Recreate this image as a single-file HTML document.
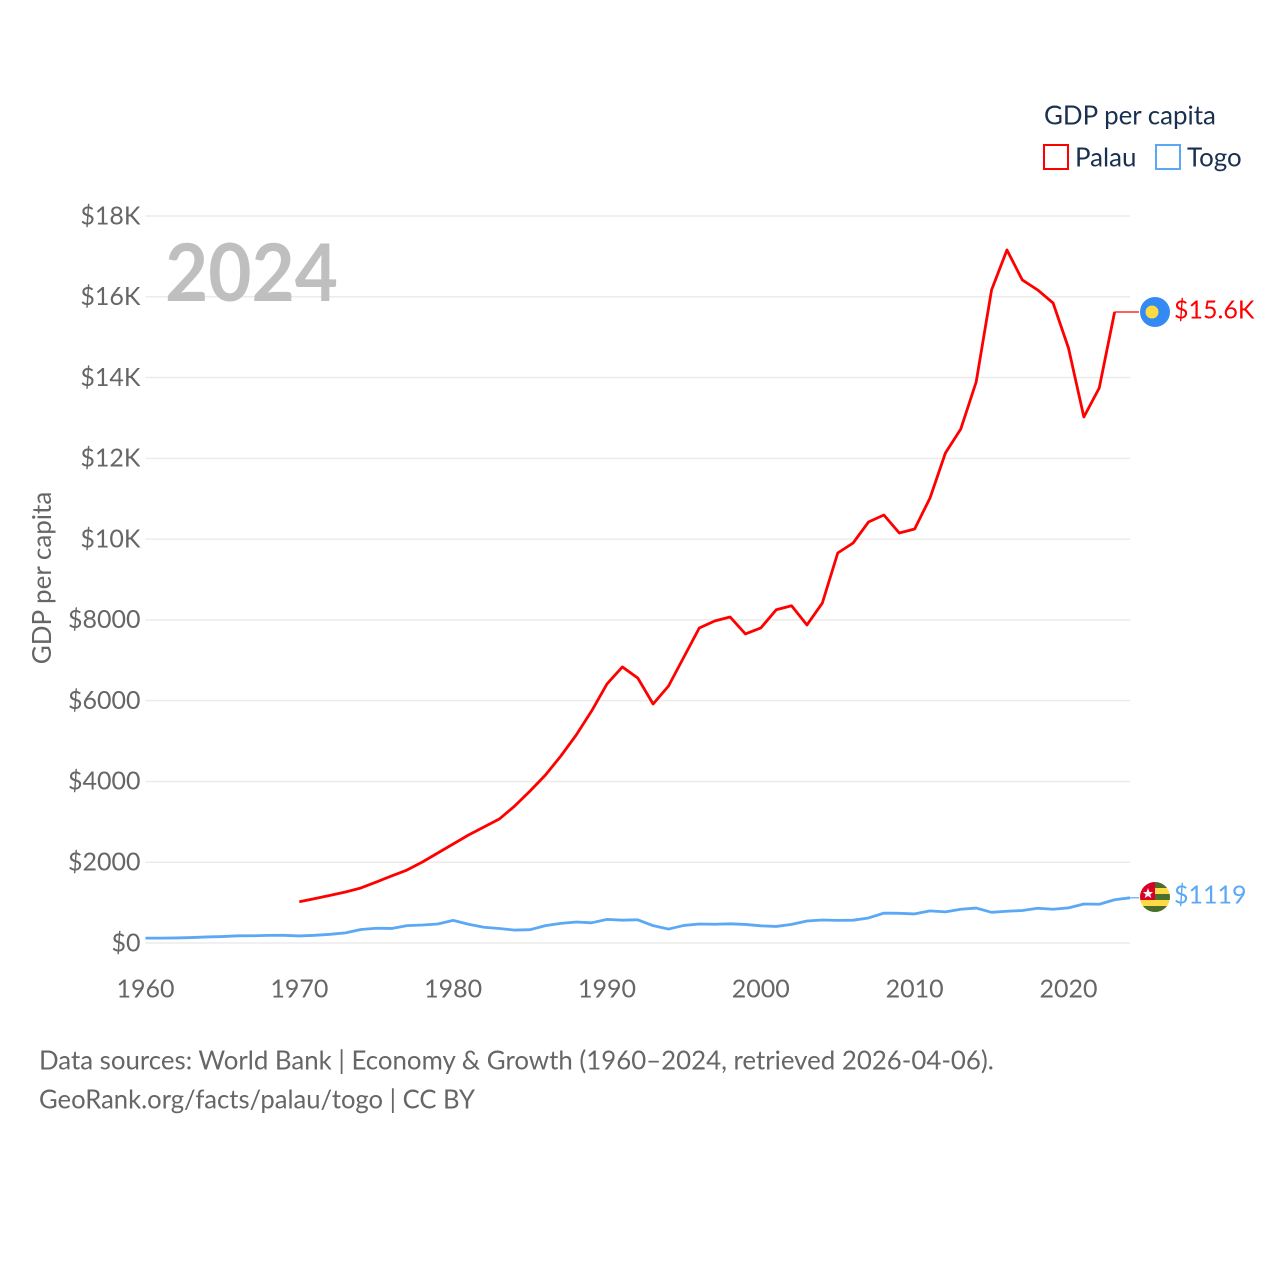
<!DOCTYPE html>
<html lang="en">
<head>
<meta charset="utf-8">
<title>GDP per capita: Palau and Togo</title>
<style>
html,body{margin:0;padding:0;background:#fff;width:1280px;height:1280px;overflow:hidden}
svg{display:block}
text{font-family:"Lato","Carlito","Liberation Sans",sans-serif}
</style>
</head>
<body>
<svg id="chart" width="1280" height="1280" viewBox="0 0 1280 1280" xmlns="http://www.w3.org/2000/svg">
  <g id="grid"></g>
  <text x="165" y="301" font-size="80" font-weight="700" fill="#bfbfbf" textLength="173" lengthAdjust="spacingAndGlyphs">2024</text>
  <g id="y-ticks"></g>
  <g id="x-ticks"></g>
  <text transform="translate(51,578) rotate(-90)" text-anchor="middle" font-size="26" fill="#666666">GDP per capita</text>
  <g id="series"></g>

  <g>
    <text x="1044" y="124.5" font-size="25.9" fill="#1a3050">GDP per capita</text>
    <rect x="1044" y="145" width="24" height="24" fill="none" stroke="#ff0000" stroke-width="2"/>
    <text x="1075" y="166.5" font-size="25.9" fill="#1a3050">Palau</text>
    <rect x="1156" y="145" width="24" height="24" fill="none" stroke="#5ba8f5" stroke-width="2"/>
    <text x="1187" y="166.5" font-size="25.9" fill="#1a3050">Togo</text>
  </g>

  <g>
    <circle cx="1155" cy="312" r="15" fill="#338af3"/>
    <circle cx="1152" cy="312" r="6.5" fill="#ffda44"/>
  </g>
  <text x="1174" y="318.5" font-size="25" fill="#ff0000">$15.6K</text>

  <g>
    <defs><clipPath id="togo-clip"><circle cx="1155" cy="897" r="15"/></clipPath></defs>
    <g clip-path="url(#togo-clip)">
      <rect x="1140" y="882" width="30" height="30" fill="#ffda44"/>
      <rect x="1155" y="882" width="15" height="6" fill="#496e2d"/>
      <rect x="1155" y="894" width="15" height="6" fill="#496e2d"/>
      <rect x="1140" y="906" width="30" height="6" fill="#496e2d"/>
      <rect x="1140" y="882" width="15" height="18" fill="#d80027"/>
      <polygon points="1148,888 1149.5,892 1153,892 1150.3,894.5 1151.3,898 1148,896 1144.7,898 1145.7,894.5 1143,892 1146.5,892" fill="#f0f0f0"/>
    </g>
  </g>
  <text x="1174" y="903.5" font-size="25" fill="#5ba8f5">$1119</text>

  <text x="39" y="1069.5" font-size="25.84" fill="#666666">Data sources: World Bank | Economy &amp; Growth (1960–2024, retrieved 2026-04-06).</text>
  <text x="39" y="1108.5" font-size="25.84" fill="#666666" textLength="436" lengthAdjust="spacingAndGlyphs">GeoRank.org/facts/palau/togo | CC BY</text>
</svg>
<script>
const startYear = 1960;
const endYear = 2024;
const palauStartYear = 1970;
const palauValues = [1020,1100,1180,1263,1362,1510,1659,1807,2005,2228,2451,2674,2872,3070,3392,3763,4159,4630,5150,5744,6413,6835,6561,5918,6363,7081,7799,7973,8072,7651,7800,8250,8350,7874,8418,9656,9904,10424,10597,10152,10251,11018,12132,12727,13890,16168,17159,16416,16168,15846,14732,13024,13742,15624];
const togoValues = [120,120,125,135,150,160,178,180,188,190,175,190,215,250,335,365,360,430,445,470,560,465,390,360,320,330,430,485,520,500,585,565,575,430,345,435,470,465,475,460,425,410,460,545,570,560,565,620,740,735,720,795,770,835,865,760,785,805,860,835,870,965,960,1070,1119];
const yTickValues = [0,2000,4000,6000,8000,10000,12000,14000,16000,18000];
const yTickLabels = ['$0','$2000','$4000','$6000','$8000','$10K','$12K','$14K','$16K','$18K'];
const xTickValues = [1960,1970,1980,1990,2000,2010,2020];

const plotLeft = 145.5, plotRight = 1130, plotBottom = 943, plotTop = 216;
const maxTick = 18000;
function xScale(year){ return plotLeft + (year - startYear) / (endYear - startYear) * (plotRight - plotLeft); }
function yScale(value){ return plotBottom - value / maxTick * (plotBottom - plotTop); }
const NS = 'http://www.w3.org/2000/svg';
function make(parent, tag, attrs){
  const el = document.createElementNS(NS, tag);
  for (const k in attrs) el.setAttribute(k, attrs[k]);
  parent.appendChild(el);
  return el;
}
const grid = document.getElementById('grid');
const yTicks = document.getElementById('y-ticks');
const xTicks = document.getElementById('x-ticks');
const series = document.getElementById('series');

yTickValues.forEach(function(v, i){
  const line = make(grid, 'line', {x1: plotLeft, x2: plotRight, y1: yScale(v), y2: yScale(v), stroke: '#ebebeb', 'stroke-width': 1.5});
  
  
  const t = make(yTicks, 'text', {x: 140.5, y: yScale(v) + 8.3, 'text-anchor': 'end', 'font-size': 25, fill: '#666666'});
  
  
  t.textContent = yTickLabels[i];
});
xTickValues.forEach(function(y){
  const t = make(xTicks, 'text', {x: xScale(y), y: 997.4, 'text-anchor': 'middle', 'font-size': 25, fill: '#666666'});
  
  
  t.textContent = y;
});
function pathFor(values, firstYear){
  return values.map(function(v, i){
    return (i ? 'L' : 'M') + xScale(firstYear + i).toFixed(2) + ' ' + yScale(v).toFixed(2);
  }).join(' ');
}
const palauLine = make(series, 'path', {d: pathFor(palauValues, palauStartYear), fill: 'none', stroke: '#ff0000', 'stroke-width': 2.8, 'stroke-linejoin': 'round'});


const togoLine = make(series, 'path', {d: pathFor(togoValues, startYear), fill: 'none', stroke: '#5ba8f5', 'stroke-width': 2.8, 'stroke-linejoin': 'round'});


const palauLastIndex = palauValues.length - 1;
const palauEnd = yScale(palauValues[palauLastIndex]);
const palauLeader = make(series, 'line', {x1: xScale(palauStartYear + palauLastIndex), x2: 1139, y1: palauEnd, y2: palauEnd, stroke: '#ff0000', 'stroke-width': 1.2});


const togoEnd = yScale(togoValues[togoValues.length - 1]);
const togoLeader = make(series, 'line', {x1: plotRight, x2: 1139, y1: togoEnd, y2: togoEnd, stroke: '#5ba8f5', 'stroke-width': 1.2});


</script>
</body>
</html>
